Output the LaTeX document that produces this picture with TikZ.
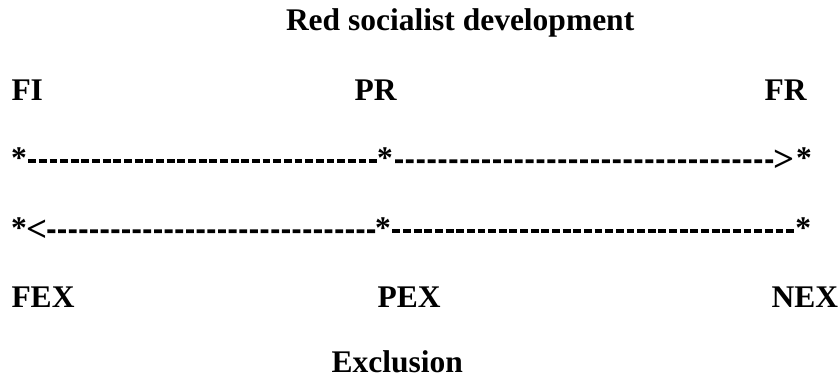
\documentclass[tikz,border=0pt]{standalone}
\usepackage{fontspec}
\setmainfont{Liberation Serif}
\newcommand\bigbf{\fontsize{31.5bp}{38bp}\selectfont\bfseries}
\newcommand\tipbf{\fontsize{37bp}{44bp}\selectfont\bfseries}
\tikzset{
  lbl/.style={inner sep=0pt, outer sep=0pt, anchor=base west, font=\bigbf},
  tipglyph/.style={inner sep=0pt, outer sep=0pt, anchor=center, font=\tipbf},
  dl/.style={line width=3.8bp, line cap=butt, dash pattern=on 7.85bp off #1bp}
}
\begin{document}
\begin{tikzpicture}[x=1bp,y=-1bp]
\useasboundingbox (0,0) rectangle (840,379);
% labels
\node[lbl] (title) at (286,30.5) {Red socialist development};
\node[lbl] (FI) at (11.5,100) {FI};
\node[lbl] (PR) at (354.5,100) {PR};
\node[lbl] (FR) at (764.5,100) {FR};
% row 1
\node[lbl] (s11) at (11,168.4) {*};
\node[lbl] (s12) at (377,168.4) {*};
\node[tipglyph] (g1) at (784,161.2) {>};
\node[lbl] (s13) at (796,168.4) {*};
% row 2
\node[lbl] (s21) at (11,238.4) {*};
\node[tipglyph] (g2) at (36.9,231.2) {<};
\node[lbl] (s22) at (375.2,238.4) {*};
\node[lbl] (s23) at (795.3,238.4) {*};
% bottom labels
\node[lbl] (FEX) at (11.5,307) {FEX};
\node[lbl] (PEX) at (377.5,307) {PEX};
\node[lbl] (NEX) at (771.5,307) {NEX};
\node[lbl] (excl) at (331.5,372) {Exclusion};
% connectors
\draw[dl=2.805] ([xshift=1.45bp,yshift=7.2bp]s11.base east) -- ([yshift=7.2bp]s12.base west);
\draw[dl=3.04] ([xshift=2.25bp,yshift=7.2bp]s12.base east) -- (g1.west);
\draw[dl=2.81] (g2.east) -- ([yshift=7.2bp]s22.base west);
\draw[dl=2.79] ([xshift=1.5bp,yshift=7.2bp]s22.base east) -- ([xshift=-1.3bp,yshift=7.2bp]s23.base west);
\end{tikzpicture}
\end{document}
